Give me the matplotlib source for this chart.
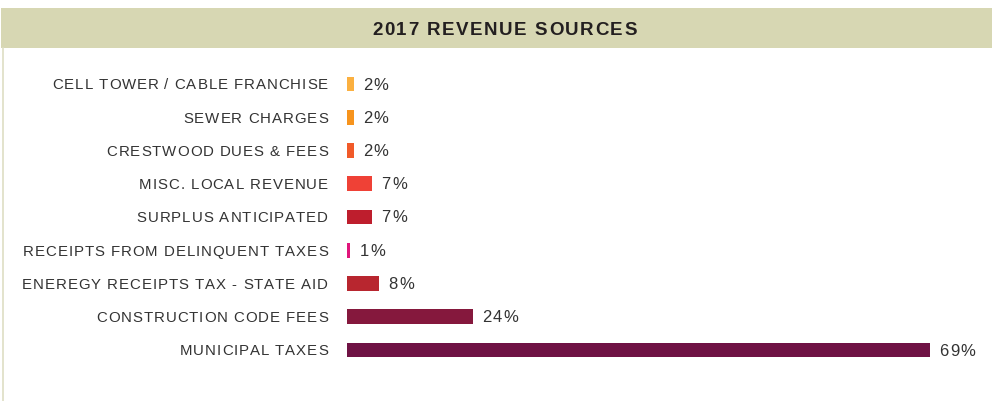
import matplotlib
matplotlib.use('Agg')
import matplotlib.pyplot as plt
from matplotlib.patches import Rectangle
from matplotlib.lines import Line2D
from matplotlib.font_manager import FontProperties, findfont, get_font

# revenue categories, top to bottom
categories = ['CELL TOWER / CABLE FRANCHISE', 'SEWER CHARGES', 'CRESTWOOD DUES & FEES',
              'MISC. LOCAL REVENUE', 'SURPLUS ANTICIPATED', 'RECEIPTS FROM DELINQUENT TAXES',
              'ENEREGY RECEIPTS TAX - STATE AID', 'CONSTRUCTION CODE FEES', 'MUNICIPAL TAXES']
# bar lengths as drawn (relative units) and the labels printed next to them
bar_values = [0.8, 0.8, 0.8, 2.95, 2.95, 0.35, 3.8, 14.9, 69]
pct_labels = ['2%', '2%', '2%', '7%', '7%', '1%', '8%', '24%', '69%']
colors = ['#fbb040', '#f7941d', '#f15a29', '#ef4136', '#be1e2d',
          '#e0157b', '#b8262f', '#85183d', '#6f1244']

plt.rcParams['font.family'] = ['Liberation Sans', 'DejaVu Sans']

W, H = 992, 401
DPI = 100
fig = plt.figure(figsize=(W / DPI, H / DPI), dpi=DPI)


def tracked_text(x, y, s, size, track, ha='left', weight='normal', color='#333333'):
    # text with extra letter spacing; x, y in pixels (y = vertical centre of caps)
    fp = FontProperties(family='Liberation Sans', weight=weight, size=size)
    font = get_font(findfont(fp))
    font.set_size(size, DPI)
    advs = [font.load_char(ord(c)).linearHoriAdvance / 65536 for c in s]
    total = sum(advs) + track * (len(s) - 1)
    if ha == 'right':
        x0 = x - total
    elif ha == 'center':
        x0 = x - total / 2
    else:
        x0 = x
    base = y - 0.72 * size * DPI / 72 / 2
    for c, a in zip(s, advs):
        if c != ' ':
            fig.text(x0, base, c, transform=None, fontproperties=fp, color=color,
                     ha='left', va='baseline')
        x0 += a + track


# header band and left frame line
fig.patches.append(Rectangle((1 / W, 1 - 48 / H), 1, 40 / H, transform=fig.transFigure,
                             facecolor='#d7d7b3', edgecolor='none', zorder=0))
fig.lines.append(Line2D([2.5 / W, 2.5 / W], [0, 1 - 48 / H], transform=fig.transFigure,
                        color='#dedec4', lw=1.2))
tracked_text(504.5, H - 28, '2017 REVENUE SOURCES', 13.5, 1.5, ha='center',
             weight='bold', color='#231f20')

left, right = 347, 990
ax = fig.add_axes([left / W, 0, (right - left) / W, 1 - 50 / H])
ax.set_xlim(0, 69 * (right - left) / 583)
ax.set_ylim((401 - 84) / 33.25, (50 - 84) / 33.25)
ypos = list(range(len(categories)))
ax.barh(ypos, bar_values, height=0.45, color=colors)
ax.axis('off')

for y, v, lab, cat in zip(ypos, bar_values, pct_labels, categories):
    bx, by = ax.transData.transform((v, y))
    zx, _ = ax.transData.transform((0, y))
    tracked_text(bx + 9.5, by + 0.5, lab, 12, 1.3)
    tracked_text(zx - 19, by, cat, 10.8, 0.95, ha='right')

fig.savefig('out.png', dpi=DPI, facecolor='white')
